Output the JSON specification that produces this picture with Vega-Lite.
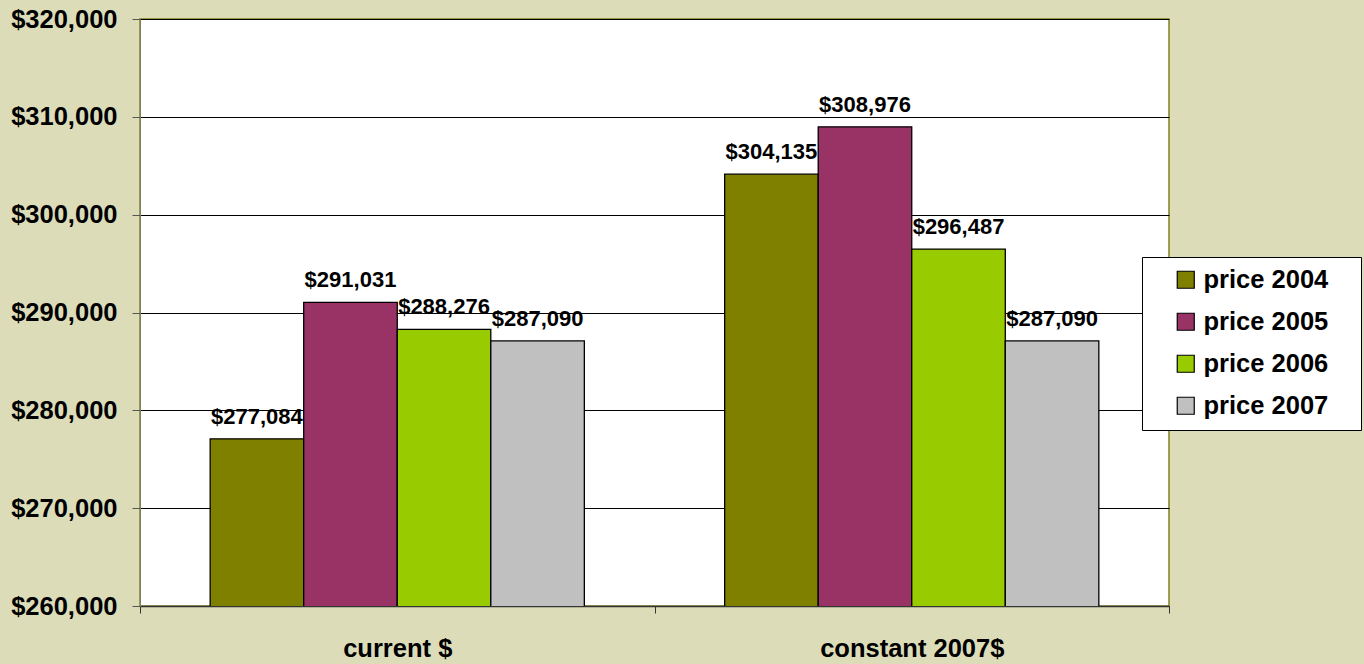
{
  "$schema": "https://vega.github.io/schema/vega-lite/v6.json",
  "width": 1029,
  "height": 587,
  "autosize": {"type": "none"},
  "padding": {"left": 140, "top": 19, "right": 195, "bottom": 58},
  "background": "#dcdcb9",
  "config": {
    "font": "Liberation Sans",
    "view": {"fill": "white", "stroke": "#808020", "strokeWidth": 1.5}
  },
  "data": {
    "values": [
      {"basis": "current $", "series": "price 2004", "value": 277084},
      {"basis": "current $", "series": "price 2005", "value": 291031},
      {"basis": "current $", "series": "price 2006", "value": 288276},
      {"basis": "current $", "series": "price 2007", "value": 287090},
      {"basis": "constant 2007$", "series": "price 2004", "value": 304135},
      {"basis": "constant 2007$", "series": "price 2005", "value": 308976},
      {"basis": "constant 2007$", "series": "price 2006", "value": 296487},
      {"basis": "constant 2007$", "series": "price 2007", "value": 287090}
    ]
  },
  "encoding": {
    "x": {
      "field": "basis",
      "type": "nominal",
      "sort": ["current $", "constant 2007$"],
      "scale": {"paddingInner": 0, "paddingOuter": 0},
      "axis": {
        "title": null,
        "labelAngle": 0,
        "labelFontSize": 25.5,
        "labelFontWeight": "bold",
        "labelColor": "black",
        "labelPadding": 23,
        "labelLimit": 0,
        "tickBand": "extent",
        "tickSize": 7,
        "tickColor": "#333333",
        "domainColor": "#333333",
        "domainWidth": 1.5
      }
    },
    "xOffset": {
      "field": "series",
      "type": "nominal",
      "scale": {"paddingInner": 0, "paddingOuter": 0.75}
    },
    "y": {
      "field": "value",
      "type": "quantitative",
      "scale": {"domain": [260000, 320000], "zero": false, "nice": false},
      "axis": {
        "title": null,
        "values": [260000, 270000, 280000, 290000, 300000, 310000, 320000],
        "format": "$,.0f",
        "labelFontSize": 25.5,
        "labelFontWeight": "bold",
        "labelColor": "black",
        "labelPadding": 15,
        "tickSize": 8,
        "tickColor": "#555555",
        "domainColor": "#808060",
        "grid": true,
        "gridColor": "black",
        "gridOpacity": 1,
        "gridWidth": 1
      }
    }
  },
  "layer": [
    {
      "mark": {"type": "bar", "stroke": "black", "strokeWidth": 1.3, "clip": true},
      "encoding": {
        "color": {
          "field": "series",
          "type": "nominal",
          "scale": {"range": ["#808000", "#993366", "#99cc00", "#c0c0c0"]},
          "legend": {
            "title": "\u2002",
            "titleOrient": "right",
            "titlePadding": 23,
            "titleFontSize": 2,
            "orient": "none",
            "legendX": 1002,
            "legendY": 238,
            "fillColor": "white",
            "strokeColor": "black",
            "padding": 10,
            "symbolType": "square",
            "symbolSize": 289,
            "symbolStrokeColor": "black",
            "symbolStrokeWidth": 1.2,
            "symbolOpacity": 1,
            "symbolOffset": 21,
            "labelFontSize": 25.5,
            "labelFontWeight": "bold",
            "labelColor": "black",
            "labelOffset": 5,
            "labelLimit": 0,
            "rowPadding": 15
          }
        }
      }
    },
    {
      "mark": {
        "type": "text",
        "baseline": "bottom",
        "dy": -10,
        "fontSize": 22,
        "fontWeight": "bold",
        "color": "black"
      },
      "encoding": {
        "text": {"field": "value", "type": "quantitative", "format": "$,.0f"}
      }
    }
  ]
}
